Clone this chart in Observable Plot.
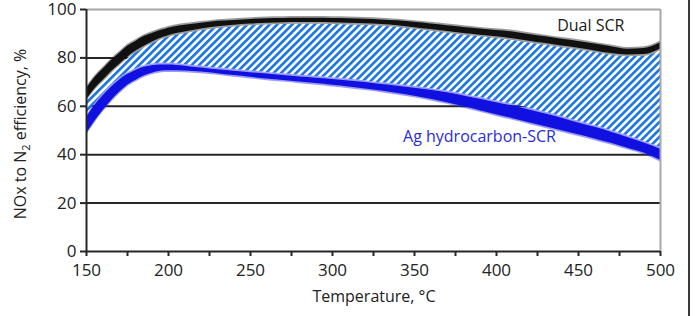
<!DOCTYPE html>
<html>
<head>
<meta charset="utf-8">
<script src="https://cdn.jsdelivr.net/npm/d3@7"></script>
<script src="https://cdn.jsdelivr.net/npm/@observablehq/plot@0.6"></script>
<style>
  body { margin: 0; background: #fff; }
  #chart { position: relative; width: 695px; height: 316px; overflow: hidden; }
  #edge { position: absolute; left: 688px; top: 0; width: 2px; height: 316px; background: #3a3a3a; }
</style>
</head>
<body>
<div id="chart"><div id="edge"></div></div>
<script>
// Temperature (°C) at which the measured scatter bands are described
const temperature = [150, 155, 160, 165, 170, 175, 180, 185, 190, 195, 200, 210, 220, 230, 240, 250, 260, 270, 280, 290, 300,
  310, 320, 330, 340, 350, 360, 370, 380, 390, 400, 410, 420, 430, 440, 450, 460, 470, 480, 490, 500];

// Dual SCR: lower and upper edge of the measured NOx-to-N2 efficiency band (%)
const dualLow = [62, 66.5, 70, 73.5, 76.5, 79.5, 82, 84, 85.8, 87.3, 88.5, 90, 91.2, 92.2, 92.8, 93.3, 93.6, 93.8, 93.9, 93.9, 93.8,
  93.6, 93.4, 93.1, 92.6, 91.8, 91, 90.2, 89.4, 88.7, 88, 87.2, 86.2, 85.2, 84.2, 83.3, 82.2, 81.1, 80.5, 80.7, 83];
const dualHigh = [68, 72.5, 76, 79.5, 82.5, 85.5, 87.5, 89.5, 90.8, 92, 93, 94.2, 95, 95.8, 96.2, 96.6, 96.9, 97, 97.1, 97.1, 97,
  96.9, 96.7, 96.4, 96, 95.4, 94.7, 94, 93.3, 92.6, 92, 91.4, 90.4, 89.4, 88.4, 87.5, 86.4, 85.3, 84.3, 84.6, 87];

// Ag hydrocarbon-SCR: lower and upper edge of the measured band (%)
const agLow = [48, 53, 57.5, 61.5, 65, 68, 70, 71.8, 73, 73.8, 74, 73.9, 73.5, 72.8, 72, 71.3, 70.6, 70, 69.3, 68.7, 68,
  67.3, 66.5, 65.6, 64.6, 63.5, 62.2, 60.8, 59.2, 57.5, 55.8, 54.2, 52.5, 50.8, 49.2, 47.5, 45.8, 44, 42, 40, 37];
const agHigh = [56, 61, 65, 68.5, 71.5, 73.8, 75.5, 76.8, 77.5, 77.8, 77.8, 77.3, 76.5, 75.8, 75.2, 74.6, 74, 73.4, 72.8, 72.3, 71.8,
  71.2, 70.5, 69.7, 69, 68.2, 67.3, 66.3, 65, 63.6, 62.2, 60.8, 59.2, 57.5, 55.8, 53.8, 52, 50, 47.8, 45.5, 43];

// Axis ticks
const yTicks = [0, 20, 40, 60, 80, 100];
const gridValues = [20, 40, 60, 80];
const xTicks = [150, 175, 200, 225, 250, 275, 300, 325, 350, 375, 400, 425, 450, 475, 500];
const xTickLabels = ["150", "", "200", "", "250", "", "300", "", "350", "", "400", "", "450", "", "500"];

// Series labels
const seriesNames = ["Dual SCR", "Ag hydrocarbon-SCR"];

const rows = temperature.map((t, i) => ({
  t,
  dualLow: dualLow[i],
  dualHigh: dualHigh[i],
  agLow: agLow[i],
  agHigh: agHigh[i]
}));

const textColor = "#222";
const font = "'Open Sans', 'Noto Sans', sans-serif";
const inset = 0.7; // dense core of each scatter band sits inside its outer edges

const chart = Plot.plot({
  width: 695,
  height: 316,
  marginLeft: 86,
  marginRight: 35,
  marginTop: 9,
  marginBottom: 65,
  style: { fontFamily: font, fontSize: "17px", color: textColor, background: "white", overflow: "visible" },
  x: { domain: [150, 500] },
  y: { domain: [0, 100] },
  marks: [
    // horizontal gridlines
    Plot.ruleY(gridValues, { stroke: "#262626", strokeWidth: 2 }),
    // hatched gap between the two technologies
    Plot.areaY(rows, { x: "t", y1: "agHigh", y2: "dualLow", fill: "url(#hatch)", curve: "monotone-x" }),
    // measured bands: faint outer scatter, dense core
    Plot.areaY(rows, { x: "t", y1: "agLow", y2: "agHigh", fill: "#2222ee", fillOpacity: 0.45, curve: "monotone-x" }),
    Plot.areaY(rows, { x: "t", y1: d => d.agLow + inset, y2: d => d.agHigh - inset, fill: "#1010e0", curve: "monotone-x" }),
    Plot.areaY(rows, { x: "t", y1: "dualLow", y2: "dualHigh", fill: "#222", fillOpacity: 0.45, curve: "monotone-x" }),
    Plot.areaY(rows, { x: "t", y1: d => d.dualLow + inset, y2: d => d.dualHigh - inset, fill: "#111", curve: "monotone-x" }),
    // plot frame
    Plot.ruleY([100], { stroke: "#a8a8a8", strokeWidth: 2 }),
    Plot.ruleX([500], { stroke: "#a8a8a8", strokeWidth: 2 }),
    Plot.ruleX([150], { stroke: "#262626", strokeWidth: 2 }),
    Plot.ruleY([0], { stroke: "#262626", strokeWidth: 2 }),
    // axes
    Plot.axisY({ ticks: yTicks, tickSize: 6, tickPadding: 4, strokeWidth: 2, stroke: "#262626", label: null,
      fill: textColor, fontSize: 17 }),
    Plot.axisX({ ticks: xTicks, tickSize: 5, tickPadding: 7, strokeWidth: 2, stroke: "#262626", label: null,
      fill: textColor, fontSize: 17, tickFormat: d => xTickLabels[xTicks.indexOf(d)] }),
    // series labels
    Plot.text([seriesNames[0]], { x: 437, y: 93.4, text: d => d, textAnchor: "start", fontSize: 16, fill: "#1a1a1a" }),
    Plot.text([seriesNames[1]], { x: 343, y: 47.2, text: d => d, textAnchor: "start", fontSize: 16, fill: "#2b2bd8" })
  ]
});

const svg = d3.select(chart);

// diagonal hatch pattern
const defs = svg.insert("defs", ":first-child");
const pattern = defs.append("pattern")
  .attr("id", "hatch")
  .attr("patternUnits", "userSpaceOnUse")
  .attr("width", 5.3)
  .attr("height", 5.3)
  .attr("patternTransform", "rotate(45)");
pattern.append("rect").attr("width", 5.3).attr("height", 5.3).attr("fill", "#ffffff");
pattern.append("rect").attr("width", 2.7).attr("height", 5.3).attr("fill", "#1f78e2");

// axis titles
svg.append("text")
  .attr("x", 374)
  .attr("y", 302)
  .attr("text-anchor", "middle")
  .attr("font-family", font)
  .attr("font-size", 16)
  .attr("fill", textColor)
  .text("Temperature, °C");

const yTitle = svg.append("text")
  .attr("transform", "translate(26,134) rotate(-90)")
  .attr("text-anchor", "middle")
  .attr("font-family", font)
  .attr("font-size", 16)
  .attr("fill", textColor);
yTitle.append("tspan").text("NOx to N");
yTitle.append("tspan").attr("font-size", 11).attr("dy", 4).text("2");
yTitle.append("tspan").attr("dy", -4).text(" efficiency, %");

document.getElementById("chart").prepend(chart);
</script>
</body>
</html>
